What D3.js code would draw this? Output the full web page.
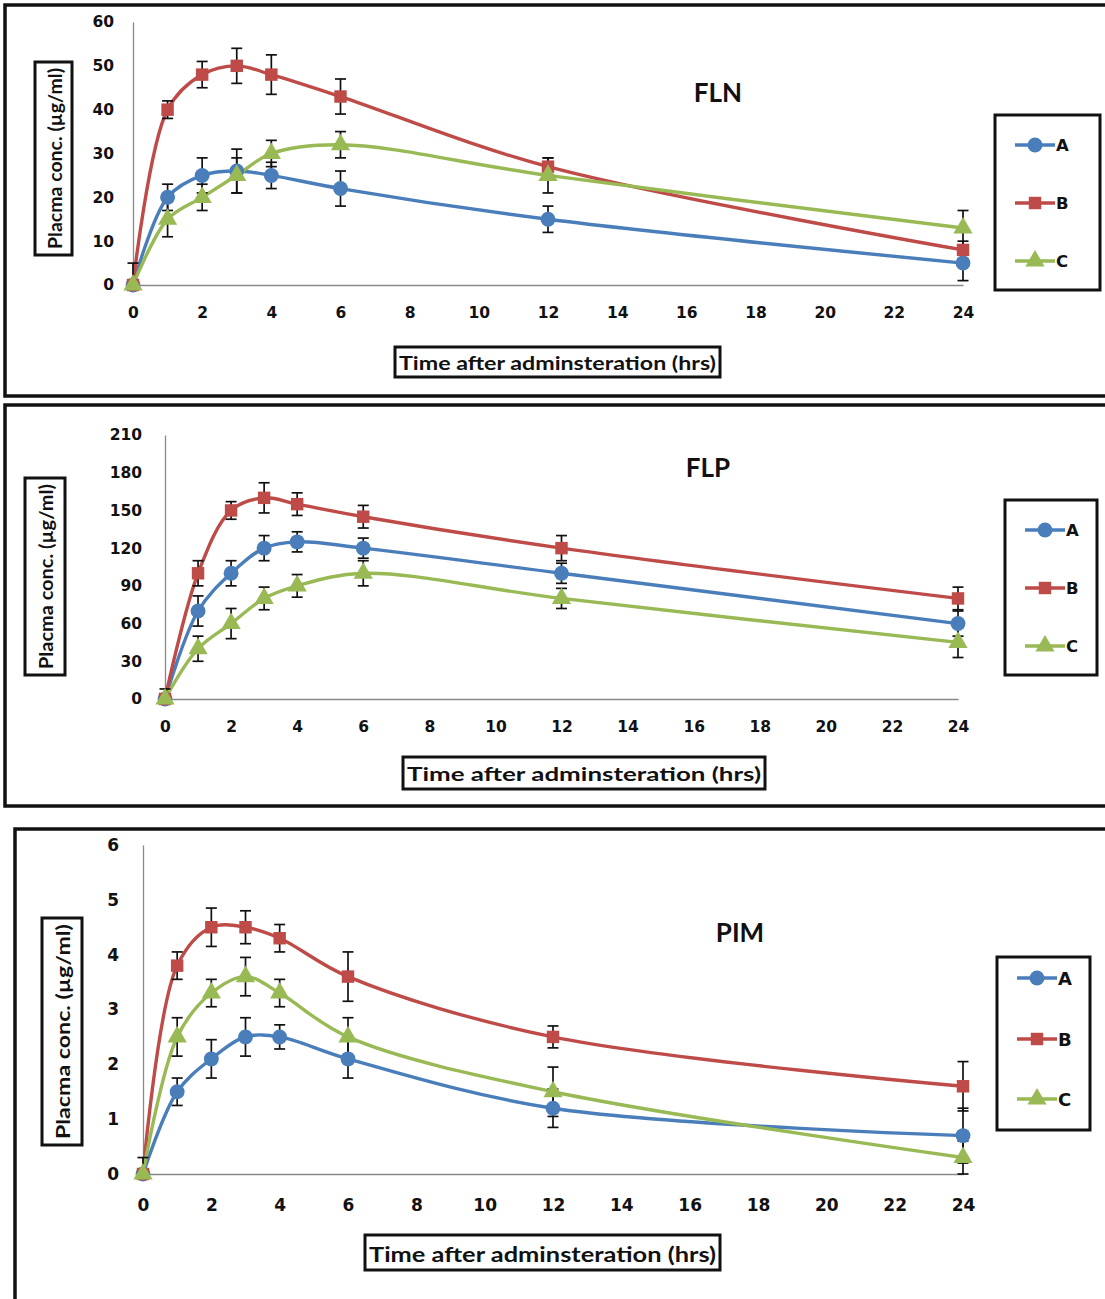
<!DOCTYPE html>
<html><head><meta charset="utf-8">
<script src="https://cdn.jsdelivr.net/npm/d3@7"></script>
<style>
html,body{margin:0;padding:0;background:#fff;}
svg{display:block;}
</style></head>
<body>
<svg id="chart" width="1105" height="1299"></svg>
<script>
// ---------- DATA ----------
const times = [0, 1, 2, 3, 4, 6, 12, 24];
const seriesNames = ["A", "B", "C"];
const xTicks = [0, 2, 4, 6, 8, 10, 12, 14, 16, 18, 20, 22, 24];

// FLN
const flnTitle = "FLN";
const flnYTicks = [0, 10, 20, 30, 40, 50, 60];
const flnA = [0, 20, 25, 26, 25, 22, 15, 5];
const flnB = [0, 40, 48, 50, 48, 43, 27, 8];
const flnC = [0, 15, 20, 25, 30, 32, 25, 13];
const flnAErr = [5, 3, 4, 5, 3, 4, 3, 4];
const flnBErr = [0, 2, 3, 4, 4.5, 4, 2, 2];
const flnCErr = [0, 4, 3, 4, 3, 3, 4, 4];

// FLP
const flpTitle = "FLP";
const flpYTicks = [0, 30, 60, 90, 120, 150, 180, 210];
const flpA = [0, 70, 100, 120, 125, 120, 100, 60];
const flpB = [0, 100, 150, 160, 155, 145, 120, 80];
const flpC = [0, 40, 60, 80, 90, 100, 80, 45];
const flpAErr = [8, 12, 10, 10, 8, 8, 8, 10];
const flpBErr = [0, 10, 7, 12, 9, 9, 10, 9];
const flpCErr = [0, 10, 12, 9, 9, 10, 8, 12];

// PIM
const pimTitle = "PIM";
const pimYTicks = [0, 1, 2, 3, 4, 5, 6];
const pimA = [0, 1.5, 2.1, 2.5, 2.5, 2.1, 1.2, 0.7];
const pimB = [0, 3.8, 4.5, 4.5, 4.3, 3.6, 2.5, 1.6];
const pimC = [0, 2.5, 3.3, 3.6, 3.3, 2.5, 1.5, 0.3];
const pimAErr = [0.3, 0.25, 0.35, 0.35, 0.22, 0.35, 0.35, 0.5];
const pimBErr = [0, 0.25, 0.35, 0.3, 0.25, 0.45, 0.2, 0.45];
const pimCErr = [0, 0.35, 0.25, 0.35, 0.25, 0.35, 0.45, 0.3];

const xTitle = "Time after adminsteration (hrs)";
const yTitle = "Placma conc. (\u00B5g/ml)";

// ---------- STYLE / LAYOUT ----------
const colors = {A: "#4A7EBB", B: "#BE4B48", C: "#98B954"};
const shapes = {A: d3.symbolCircle, B: d3.symbolSquare, C: d3.symbolTriangle};
const shapeSize = {A: 175, B: 155, C: 160};
const tickFont = "'DejaVu Sans', Verdana, sans-serif";
const titleFont = "Lato, 'Open Sans', sans-serif";

const panels = [
  {title: flnTitle, yTicks: flnYTicks, vals: [flnA, flnB, flnC], errs: [flnAErr, flnBErr, flnCErr],
   box: [5, 5, 1115, 391], xr: [133, 963], yr: [285, 22], titlePos: [718, 92],
   xBox: [395, 347, 325, 30], yBox: [35, 62, 37, 193], leg: [995, 115, 105, 175], legY: [145, 203, 261],
   yLabOff: 19, xLabOff: 32, tickSize: 15.5},
  {title: flpTitle, yTicks: flpYTicks, vals: [flpA, flpB, flpC], errs: [flpAErr, flpBErr, flpCErr],
   box: [5, 405, 1115, 401], xr: [165, 958], yr: [699, 435], titlePos: [708, 467],
   xBox: [403, 757, 362, 32], yBox: [25, 478, 40, 197], leg: [1005, 500, 92, 175], legY: [530, 588, 646],
   yLabOff: 23, xLabOff: 32, tickSize: 15.5},
  {title: pimTitle, yTicks: pimYTicks, vals: [pimA, pimB, pimC], errs: [pimAErr, pimBErr, pimCErr],
   box: [15, 829, 1110, 490], xr: [143, 963], yr: [1174, 845], titlePos: [740, 932],
   xBox: [365, 1235, 355, 35], yBox: [42, 918, 40, 227], leg: [997, 957, 93, 173], legY: [978, 1039, 1099],
   yLabOff: 24, xLabOff: 35, tickSize: 17}
];

const svg = d3.select("#chart");

panels.forEach(p => {
  const g = svg.append("g");
  // outer frame
  g.append("rect").attr("x", p.box[0]).attr("y", p.box[1]).attr("width", p.box[2]).attr("height", p.box[3])
    .attr("fill", "#fff").attr("stroke", "#111").attr("stroke-width", 3.5);

  const x = d3.scaleLinear().domain([0, 24]).range(p.xr);
  const yMax = p.yTicks[p.yTicks.length - 1];
  const y = d3.scaleLinear().domain([0, yMax]).range(p.yr);

  // axes
  const xAxis = d3.axisBottom(x).tickValues(xTicks).tickSize(0).tickPadding(p.xLabOff - 10)
    .tickFormat(d => String(d));
  const gx = g.append("g").attr("transform", `translate(0,${p.yr[0]})`).call(xAxis);
  gx.select(".domain").attr("stroke", "#888").attr("stroke-width", 1.3);
  gx.selectAll("text").attr("font-family", tickFont).attr("font-weight", "bold")
    .attr("font-size", p.tickSize).attr("fill", "#111");

  const yAxis = d3.axisLeft(y).tickValues(p.yTicks).tickSize(0).tickPadding(p.yLabOff)
    .tickFormat(d => String(d));
  const gy = g.append("g").attr("transform", `translate(${p.xr[0]},0)`).call(yAxis);
  gy.select(".domain").attr("stroke", "#888").attr("stroke-width", 1.3);
  gy.selectAll("text").attr("font-family", tickFont).attr("font-weight", "bold")
    .attr("font-size", p.tickSize).attr("fill", "#111");

  // series
  const line = d3.line().x((d, i) => x(times[i])).y(d => y(d)).curve(d3.curveCatmullRom.alpha(0.5));
  seriesNames.forEach((s, si) => {
    const v = p.vals[si];
    g.append("path").datum(v).attr("d", line).attr("fill", "none")
      .attr("stroke", colors[s]).attr("stroke-width", 3.4).attr("stroke-linejoin", "round");
  });
  // error bars
  seriesNames.forEach((s, si) => {
    const v = p.vals[si], e = p.errs[si];
    v.forEach((val, i) => {
      if (!e[i]) return;
      const cx = x(times[i]);
      const y1 = y(val + e[i]), y2 = y(Math.max(val - e[i], 0));
      const eg = g.append("g").attr("stroke", "#111").attr("stroke-width", 1.7);
      eg.append("line").attr("x1", cx).attr("x2", cx).attr("y1", y1).attr("y2", y2);
      eg.append("line").attr("x1", cx - 5.5).attr("x2", cx + 5.5).attr("y1", y1).attr("y2", y1);
      eg.append("line").attr("x1", cx - 5.5).attr("x2", cx + 5.5).attr("y1", y2).attr("y2", y2);
    });
  });
  // markers
  seriesNames.forEach((s, si) => {
    const v = p.vals[si];
    g.selectAll(null).data(v).enter().append("path")
      .attr("d", d3.symbol().type(shapes[s]).size(shapeSize[s]))
      .attr("transform", (d, i) => `translate(${x(times[i])},${y(d)})`)
      .attr("fill", colors[s]);
  });

  // title
  g.append("text").attr("x", p.titlePos[0]).attr("y", p.titlePos[1]).attr("text-anchor", "middle")
    .attr("dominant-baseline", "central").attr("font-family", titleFont).attr("font-weight", "bold")
    .attr("font-size", 26).attr("fill", "#111").text(p.title);

  // x title box
  g.append("rect").attr("x", p.xBox[0]).attr("y", p.xBox[1]).attr("width", p.xBox[2]).attr("height", p.xBox[3])
    .attr("fill", "#fff").attr("stroke", "#111").attr("stroke-width", 3);
  g.append("text").attr("x", p.xBox[0] + p.xBox[2] / 2).attr("y", p.xBox[1] + p.xBox[3] / 2 + 1)
    .attr("text-anchor", "middle").attr("dominant-baseline", "central")
    .attr("font-family", titleFont).attr("font-weight", "bold").attr("font-size", p.xBox[3] > 33 ? 20 : 18)
    .attr("textLength", p.xBox[2] - 8).attr("lengthAdjust", "spacingAndGlyphs")
    .attr("fill", "#111").text(xTitle);

  // y title box
  g.append("rect").attr("x", p.yBox[0]).attr("y", p.yBox[1]).attr("width", p.yBox[2]).attr("height", p.yBox[3])
    .attr("fill", "#fff").attr("stroke", "#111").attr("stroke-width", 3);
  const ycx = p.yBox[0] + p.yBox[2] / 2, ycy = p.yBox[1] + p.yBox[3] / 2;
  g.append("text").attr("transform", `translate(${ycx + 1},${ycy}) rotate(-90)`)
    .attr("text-anchor", "middle").attr("dominant-baseline", "central")
    .attr("font-family", titleFont).attr("font-weight", "bold").attr("font-size", 18)
    .attr("textLength", p.yBox[3] - 12).attr("lengthAdjust", "spacingAndGlyphs")
    .attr("fill", "#111").text(yTitle);

  // legend
  g.append("rect").attr("x", p.leg[0]).attr("y", p.leg[1]).attr("width", p.leg[2]).attr("height", p.leg[3])
    .attr("fill", "#fff").attr("stroke", "#111").attr("stroke-width", 3);
  seriesNames.forEach((s, si) => {
    const ly = p.legY[si];
    const lx0 = p.leg[0] + 20, lx1 = p.leg[0] + 60;
    g.append("line").attr("x1", lx0).attr("x2", lx1).attr("y1", ly).attr("y2", ly)
      .attr("stroke", colors[s]).attr("stroke-width", 3.4);
    g.append("path").attr("d", d3.symbol().type(shapes[s]).size(shapeSize[s]))
      .attr("transform", `translate(${(lx0 + lx1) / 2},${ly})`).attr("fill", colors[s]);
    g.append("text").attr("x", lx1 + 1).attr("y", ly).attr("dominant-baseline", "central")
      .attr("font-family", tickFont).attr("font-weight", "bold").attr("font-size", p.tickSize + 1)
      .attr("fill", "#111").text(s);
  });
});
</script>
</body></html>
